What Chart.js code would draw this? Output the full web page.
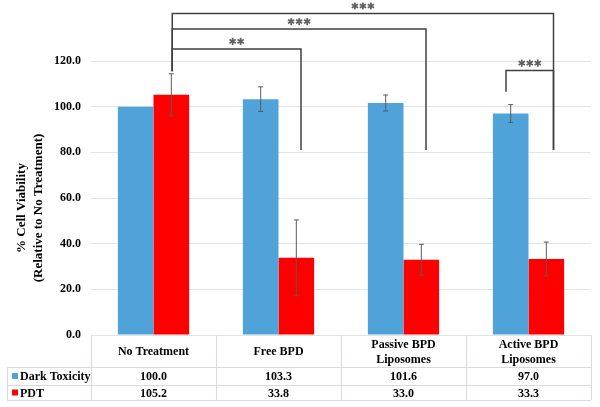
<!DOCTYPE html>
<html>
<head>
<meta charset="utf-8">
<script src="https://cdn.jsdelivr.net/npm/chart.js@4.4.0/dist/chart.umd.min.js"></script>
<style>
  html, body { margin: 0; padding: 0; background: #fff; }
  #wrap { width: 600px; height: 407px; }
</style>
</head>
<body>
<div id="wrap"><canvas id="viabilityChart" width="600" height="407"></canvas></div>
<script>
const categories = [['No Treatment'], ['Free BPD'], ['Passive BPD', 'Liposomes'], ['Active BPD', 'Liposomes']];
const darkValues = [100.0, 103.3, 101.6, 97.0];
const pdtValues = [105.2, 33.8, 33.0, 33.3];
const darkErrors = [0, 5.4, 3.5, 3.9];
const pdtErrors = [9.2, 16.6, 6.7, 7.4];
const yTicks = [0, 20, 40, 60, 80, 100, 120];

// significance brackets: x in category index units, heights in % viability
const brackets = [
  { from: 0.15, to: 3.2, top: 140.8, fromEnd: 115.5, toEnd: 81, stars: 3 },
  { from: 0.15, to: 2.18, top: 134, fromEnd: 115.5, toEnd: 81, stars: 3 },
  { from: 0.15, to: 1.18, top: 125.3, fromEnd: 115.5, toEnd: 81, stars: 2 },
  { from: 2.82, to: 3.2, top: 115.8, fromEnd: 106.5, toEnd: 81, stars: 3 },
];

const serifBold = 'bold 12px "Liberation Serif", "Times New Roman", serif';

function drawStars(c, n, cx, cy) {
  const gap = 8;
  const r = 3.6;
  for (let k = 0; k < n; k++) {
    const sx = cx + (k - (n - 1) / 2) * gap;
    c.beginPath();
    for (let a = 0; a < 3; a++) {
      const ang = Math.PI / 2 + a * Math.PI / 3;
      c.moveTo(sx + r * Math.cos(ang), cy + r * Math.sin(ang));
      c.lineTo(sx - r * Math.cos(ang), cy - r * Math.sin(ang));
    }
    c.stroke();
  }
}

const extrasPlugin = {
  id: 'extras',
  afterDatasetsDraw(chart) {
    const c = chart.ctx;
    const x = chart.scales.x;
    const y = chart.scales.y;
    const area = chart.chartArea;

    // error bars
    c.save();
    c.strokeStyle = '#5a5a5a';
    c.lineWidth = 1;
    [darkErrors, pdtErrors].forEach((errs, di) => {
      const meta = chart.getDatasetMeta(di);
      const vals = chart.data.datasets[di].data;
      meta.data.forEach((bar, i) => {
        if (!errs[i]) return;
        const yt = y.getPixelForValue(vals[i] + errs[i]);
        const yb = y.getPixelForValue(vals[i] - errs[i]);
        c.beginPath();
        c.moveTo(bar.x, yt); c.lineTo(bar.x, yb);
        c.moveTo(bar.x - 2.5, yt); c.lineTo(bar.x + 2.5, yt);
        c.moveTo(bar.x - 2.5, yb); c.lineTo(bar.x + 2.5, yb);
        c.stroke();
      });
    });
    c.restore();

    // brackets
    c.save();
    c.strokeStyle = '#404040';
    c.lineWidth = 1.5;
    brackets.forEach(b => {
      const x1 = x.getPixelForValue(b.from);
      const x2 = x.getPixelForValue(b.to);
      const yt = y.getPixelForValue(b.top);
      c.beginPath();
      c.moveTo(x1, y.getPixelForValue(b.fromEnd));
      c.lineTo(x1, yt);
      c.lineTo(x2, yt);
      c.lineTo(x2, y.getPixelForValue(b.toEnd));
      c.stroke();
    });
    c.strokeStyle = '#606060';
    c.lineWidth = 1.7;
    brackets.forEach(b => {
      const x1 = x.getPixelForValue(b.from);
      const x2 = x.getPixelForValue(b.to);
      const yt = y.getPixelForValue(b.top);
      drawStars(c, b.stars, (x1 + x2) / 2, yt - 7.5);
    });
    c.restore();

    // y axis title
    c.save();
    c.fillStyle = '#000';
    c.font = 'bold 13px "Liberation Serif", "Times New Roman", serif';
    c.textAlign = 'center';
    c.textBaseline = 'middle';
    c.translate(22, 208);
    c.rotate(-Math.PI / 2);
    c.fillText('% Cell Viability', 0, 0);
    c.fillText('(Relative to No Treatment)', 0, 16.5);
    c.restore();

    // data table
    const tLeft = 7;
    const rowTop = area.bottom;
    const rowH = 367 - rowTop;
    const r1 = rowTop + rowH;
    const r2 = r1 + 18;
    const r3 = r2 + 15;
    c.save();
    c.strokeStyle = '#e0d8d8';
    c.lineWidth = 1;
    c.beginPath();
    for (let i = 0; i <= categories.length; i++) {
      const px = Math.round(x.getPixelForValue(i - 0.5)) + 0.5;
      c.moveTo(px, rowTop); c.lineTo(px, r3);
    }
    c.moveTo(tLeft + 0.5, r1); c.lineTo(tLeft + 0.5, r3);
    [r1, r2, r3].forEach(ry => {
      c.moveTo(tLeft, ry + 0.5); c.lineTo(area.right, ry + 0.5);
    });
    c.stroke();

    c.fillStyle = '#000';
    c.font = serifBold;
    c.textAlign = 'center';
    c.textBaseline = 'middle';
    categories.forEach((lines, i) => {
      const cx = x.getPixelForValue(i);
      const cy = rowTop + rowH / 2 + 1;
      if (lines.length === 1) {
        c.fillText(lines[0], cx, cy);
      } else {
        c.fillText(lines[0], cx, cy - 7.5);
        c.fillText(lines[1], cx, cy + 7.5);
      }
      c.fillText(darkValues[i].toFixed(1), cx, (r1 + r2) / 2 + 1);
      c.fillText(pdtValues[i].toFixed(1), cx, (r2 + r3) / 2 + 1);
    });

    c.textAlign = 'left';
    c.fillStyle = chart.data.datasets[0].backgroundColor;
    c.fillRect(12, (r1 + r2) / 2 - 3, 6, 6);
    c.fillStyle = chart.data.datasets[1].backgroundColor;
    c.fillRect(12, (r2 + r3) / 2 - 3, 6, 6);
    c.fillStyle = '#000';
    c.fillText('Dark Toxicity', 20, (r1 + r2) / 2 + 1);
    c.fillText('PDT', 20, (r2 + r3) / 2 + 1);
    c.restore();
  }
};

const ctx = document.getElementById('viabilityChart').getContext('2d');
new Chart(ctx, {
  type: 'bar',
  data: {
    labels: categories.map(l => l.join(' ')),
    datasets: [
      { label: 'Dark Toxicity', data: darkValues, backgroundColor: '#4fa3d9' },
      { label: 'PDT', data: pdtValues, backgroundColor: '#ff0000' },
    ],
  },
  options: {
    responsive: false,
    animation: false,
    layout: { padding: { top: 61, bottom: 72, right: 9, left: 0 } },
    plugins: { legend: { display: false }, tooltip: { enabled: false } },
    datasets: { bar: { categoryPercentage: 0.57, barPercentage: 1.0 } },
    scales: {
      x: { display: false },
      y: {
        min: 0,
        max: 120,
        afterFit(scale) { scale.width = 91; },
        afterBuildTicks(scale) { scale.ticks = yTicks.map(v => ({ value: v })); },
        grid: { color: '#e3e3e3', drawTicks: false },
        border: { display: false },
        ticks: {
          padding: 10,
          color: '#000',
          font: { family: '"Liberation Serif", "Times New Roman", serif', size: 12, weight: 'bold' },
          callback: v => v.toFixed(1),
        },
      },
    },
  },
  plugins: [extrasPlugin],
});
</script>
</body>
</html>
